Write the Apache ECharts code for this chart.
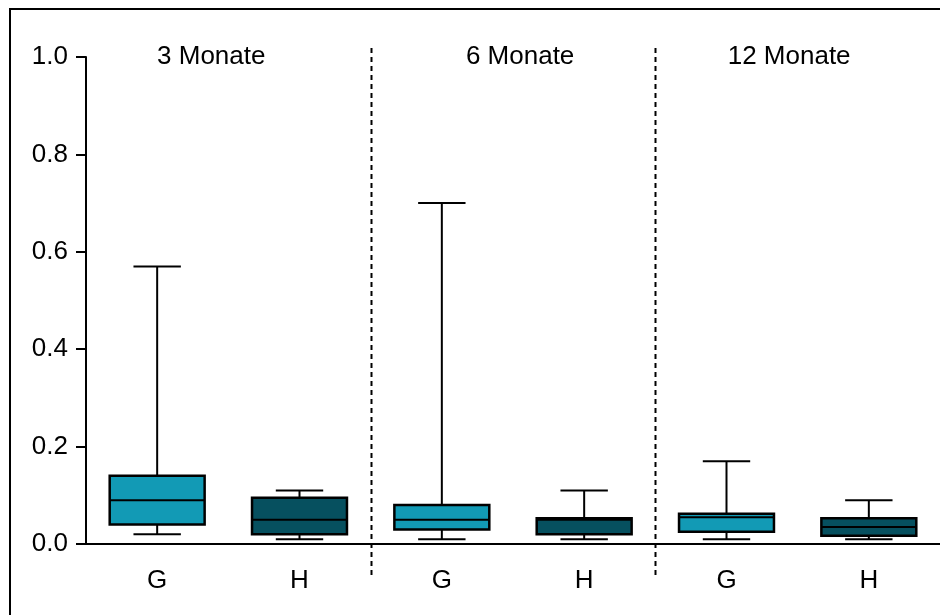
<!DOCTYPE html>
<html>
<head>
<meta charset="utf-8">
<script src="https://cdn.jsdelivr.net/npm/echarts@6/dist/echarts.min.js"></script>
<style>
html,body{margin:0;padding:0;background:#fff;}
#chart{width:940px;height:615px;}
</style>
</head>
<body>
<div id="chart"></div>
<script>
// ---- data ----
const categories = ['G', 'H', 'G', 'H', 'G', 'H'];
const whiskerLow  = [0.02, 0.01, 0.01, 0.01, 0.01, 0.01];
const quart1      = [0.04, 0.02, 0.03, 0.02, 0.025, 0.017];
const medians     = [0.09, 0.05, 0.05, 0.05, 0.055, 0.035];
const quart3      = [0.14, 0.095, 0.08, 0.053, 0.062, 0.053];
const whiskerHigh = [0.57, 0.11, 0.70, 0.11, 0.17, 0.09];
const groupLabels = ['3 Monate', '6 Monate', '12 Monate'];
const yMin = 0, yMax = 1.0, yStep = 0.2;

// ---- style / layout ----
const colG = '#129ab5';
const colH = '#06505f';
const FONT = "'Liberation Sans', Arial, sans-serif";
const FS = 26;
const groupLabelIdx = [0.38, 2.55, 4.44]; // label anchor in category units
const separatorsAfter = [1, 3];

const rows = categories.map((c, i) => [i, whiskerLow[i], quart1[i], medians[i], quart3[i], whiskerHigh[i]]);

const chart = echarts.init(document.getElementById('chart'), null, {renderer: 'canvas'});

function renderItem(params, api) {
  const x = api.value(0);
  const band = api.size([1, 0])[0];
  const boxW = band * 0.667;
  const capW = band * 0.333;
  const pLo = api.coord([x, api.value(1)]);
  const pQ1 = api.coord([x, api.value(2)]);
  const pMed = api.coord([x, api.value(3)]);
  const pQ3 = api.coord([x, api.value(4)]);
  const pHi = api.coord([x, api.value(5)]);
  const cx = pMed[0];
  const fill = categories[params.dataIndex] === 'G' ? colG : colH;
  const ls = {stroke: '#000', lineWidth: 2};
  return {
    type: 'group',
    children: [
      {type: 'line', shape: {x1: cx, y1: pHi[1], x2: cx, y2: pQ3[1]}, style: ls},
      {type: 'line', shape: {x1: cx, y1: pQ1[1], x2: cx, y2: pLo[1]}, style: ls},
      {type: 'line', shape: {x1: cx - capW / 2, y1: pHi[1], x2: cx + capW / 2, y2: pHi[1]}, style: ls},
      {type: 'line', shape: {x1: cx - capW / 2, y1: pLo[1], x2: cx + capW / 2, y2: pLo[1]}, style: ls},
      {type: 'rect', shape: {x: cx - boxW / 2, y: pQ3[1], width: boxW, height: pQ1[1] - pQ3[1]},
        style: {fill: fill, stroke: '#000', lineWidth: 2.5}},
      {type: 'line', shape: {x1: cx - boxW / 2, y1: pMed[1], x2: cx + boxW / 2, y2: pMed[1]}, style: ls}
    ]
  };
}

const option = {
  animation: false,
  backgroundColor: '#fff',
  grid: {left: 86, right: 0, top: 57, bottom: 71, containLabel: false},
  xAxis: {
    type: 'category',
    data: categories,
    boundaryGap: true,
    axisLine: {lineStyle: {color: '#000', width: 2}},
    axisTick: {alignWithLabel: true, length: 10, lineStyle: {color: '#000', width: 2}},
    axisLabel: {interval: 0, color: '#000', fontSize: FS, fontFamily: FONT, margin: 24},
    splitLine: {show: false}
  },
  yAxis: {
    type: 'value',
    min: yMin, max: yMax, interval: yStep,
    axisLine: {show: true, lineStyle: {color: '#000', width: 2}},
    axisTick: {show: true, length: 10, lineStyle: {color: '#000', width: 2}},
    axisLabel: {color: '#000', fontSize: FS, fontFamily: FONT, margin: 18,
      formatter: v => v.toFixed(1)},
    splitLine: {show: false}
  },
  series: [{
    type: 'custom',
    renderItem: renderItem,
    data: rows,
    encode: {x: 0, y: [1, 2, 3, 4, 5]},
    clip: false
  }]
};
chart.setOption(option);

// separators and group labels positioned from axis scale
const px = i => chart.convertToPixel({xAxisIndex: 0}, i);
const py = v => chart.convertToPixel({yAxisIndex: 0}, v);
const step = px(1) - px(0);
const xAt = f => px(0) + f * step;
const elements = [];
elements.push({type: 'rect', shape: {x: 10, y: 9, width: 960, height: 640},
  style: {fill: 'none', stroke: '#000', lineWidth: 2}, z: 100, silent: true});
separatorsAfter.forEach(i => {
  const sx = Math.round(xAt(i + 0.5)) + 0.5;
  elements.push({type: 'line', shape: {x1: sx, y1: py(1.0) - 9, x2: sx, y2: py(0) + 31},
    style: {stroke: '#000', lineWidth: 2, lineDash: [5, 4]}, z: 100});
});
groupLabels.forEach((t, k) => {
  elements.push({type: 'text', x: xAt(groupLabelIdx[k]), y: py(1.0),
    style: {text: t, fill: '#000', font: FS + 'px ' + FONT, textAlign: 'center', textVerticalAlign: 'middle'}, z: 100});
});
chart.setOption({graphic: {elements: elements}});
</script>
</body>
</html>
